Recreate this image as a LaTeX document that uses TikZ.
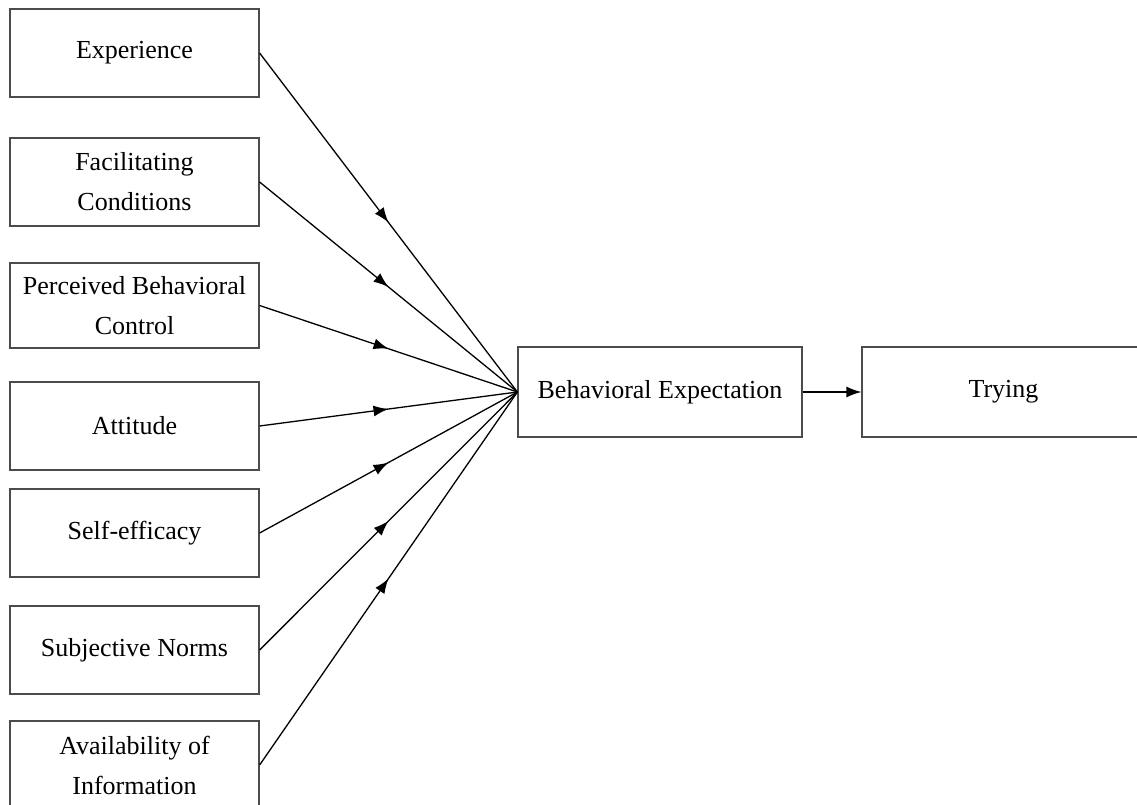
\documentclass[tikz,border=0pt]{standalone}
\usepackage{fontspec}
\setmainfont{Liberation Serif}
\usetikzlibrary{arrows.meta,decorations.markings}
\begin{document}
\begin{tikzpicture}[x=1pt,y=-1pt,
  boxnode/.style={draw=black!70, line width=1.2pt, minimum width=249pt, minimum height=88pt,
    align=center, inner sep=0pt, font={\fontsize{26}{40}\selectfont}},
  midarrow/.style={line width=1.3pt, postaction={decorate},
    decoration={markings, mark=at position 0.5 with {\arrow{Latex[length=15pt,width=11pt]}}}},
  endarrow/.style={line width=1.3pt, -{Latex[length=15pt,width=11pt]}}]
\useasboundingbox (0,0) rectangle (1137,805);
\node[boxnode] (exp) at (134.5,53) {Experience};
\node[boxnode] (fac) at (134.5,182) {Facilitating\\Conditions};
\node[boxnode, minimum height=85pt] (pbc) at (134.5,305.5) {Perceived Behavioral\\Control};
\node[boxnode] (att) at (134.5,426) {Attitude};
\node[boxnode] (sef) at (134.5,533) {Self-efficacy};
\node[boxnode] (sub) at (134.5,650) {Subjective Norms};
\node[boxnode] (ava) at (134.5,765) {Availability of\\Information};
\node[boxnode, minimum width=284pt, minimum height=90pt] (be) at (660,392) {Behavioral Expectation};
\node[boxnode, minimum width=283pt, minimum height=90pt] (try) at (1003.5,392) {Trying};
\foreach \n in {exp,fac,pbc,att,sef,sub,ava}
  \draw[midarrow] (\n.east) -- (be.west);
\draw[endarrow] (be.east) -- (try.west);
\end{tikzpicture}
\end{document}
